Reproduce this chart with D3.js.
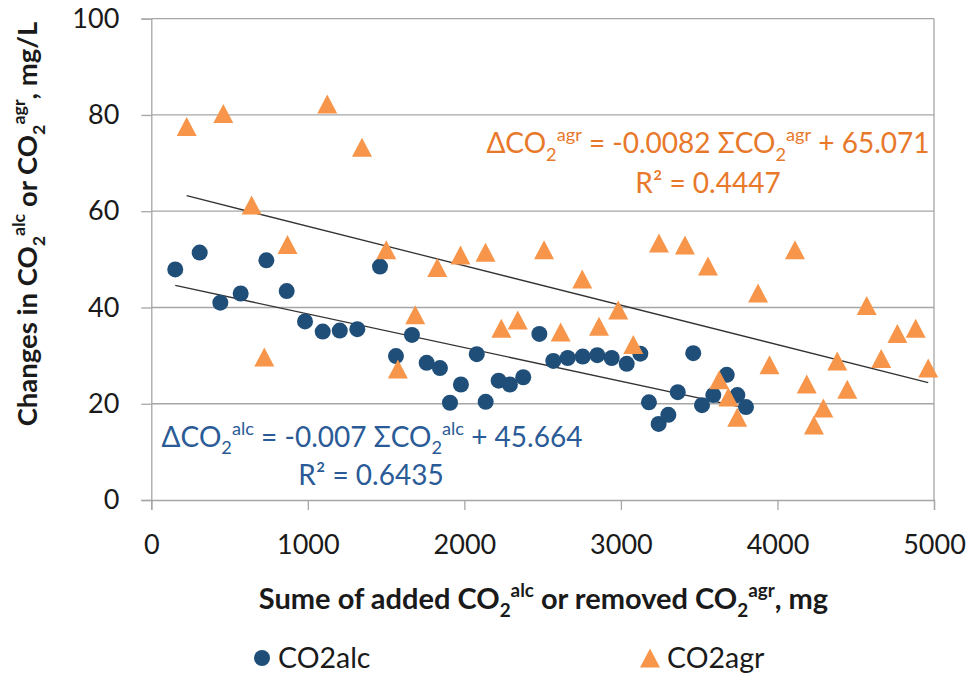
<!DOCTYPE html>
<html>
<head>
<meta charset="utf-8">
<script src="https://cdn.jsdelivr.net/npm/d3@7"></script>
<style>
  body { margin: 0; background: #fff; }
  svg { display: block; font-family: Lato, "Open Sans", sans-serif; }
</style>
</head>
<body>
<div id="chart"></div>
<script>
// data
var alcX = [153, 309, 441, 571, 735, 865, 982, 1095, 1204, 1316, 1461, 1563, 1665, 1759, 1844, 1908, 1978, 2079, 2136, 2219,
            2291, 2376, 2479, 2568, 2660, 2756, 2849, 2941, 3037, 3124, 3179, 3241, 3303, 3363, 3462, 3518, 3590, 3676, 3744, 3799];
var alcY = [47.9, 51.4, 41.0, 42.9, 49.8, 43.4, 37.1, 35.0, 35.2, 35.5, 48.5, 29.9, 34.3, 28.5, 27.4, 20.2, 24.0, 30.3, 20.4, 24.8,
            24.0, 25.5, 34.5, 28.9, 29.5, 29.8, 30.1, 29.5, 28.3, 30.4, 20.3, 15.8, 17.7, 22.4, 30.5, 19.7, 21.8, 26.0, 21.8, 19.3];
var agrX = [226, 460, 641, 722, 870, 1124, 1346, 1501, 1575, 1686, 1827, 1975, 2135, 2236, 2341, 2509, 2615, 2753, 2860, 2983,
            3079, 3243, 3409, 3556, 3628, 3686, 3743, 3876, 3949, 4112, 4187, 4233, 4293, 4382, 4446, 4570, 4663, 4766, 4883, 4963];
var agrY = [77.6, 80.3, 61.3, 29.7, 53.1, 82.3, 73.3, 52.0, 27.2, 38.5, 48.3, 50.9, 51.5, 35.7, 37.4, 52.0, 34.9, 45.9, 36.1, 39.5,
            32.3, 53.4, 53.0, 48.6, 25.0, 21.4, 17.2, 43.0, 28.1, 52.0, 24.1, 15.6, 19.1, 28.9, 23.0, 40.4, 29.4, 34.6, 35.7, 27.4];

// trendlines (slope, intercept) as printed on the chart
var alcFit = [-0.007, 45.664];
var agrFit = [-0.0082, 65.071];

var xTicks = [0, 1000, 2000, 3000, 4000, 5000];
var yTicks = [0, 20, 40, 60, 80, 100];
var seriesNames = ["CO2alc", "CO2agr"];

var W = 968, H = 675;
var margin = {top: 18.7, right: 34, bottom: 175, left: 151.3};
var width = W - margin.left - margin.right,
    height = H - margin.top - margin.bottom;

var blue = "#1F4E79", blueText = "#2A5B96";
var orange = "#F7964A", orangeText = "#E8782A";
var gridCol = "#a6a6a6";

var svg = d3.select("#chart").append("svg")
  .attr("width", W)
  .attr("height", H);

var g = svg.append("g")
  .attr("transform", "translate(" + margin.left + "," + margin.top + ")");

var x = d3.scaleLinear().domain([0, 5000]).range([0, width]);
var y = d3.scaleLinear().domain([0, 100]).range([height, 0]);

// horizontal gridlines
g.selectAll(".grid")
  .data(yTicks.slice(1))
  .enter().append("line")
  .attr("class", "grid")
  .attr("x1", 0).attr("x2", width)
  .attr("y1", d => y(d)).attr("y2", d => y(d))
  .style("stroke", gridCol).style("stroke-width", 1.3);

// right border of plot area
g.append("line")
  .attr("x1", width).attr("x2", width)
  .attr("y1", 0).attr("y2", height)
  .style("stroke", gridCol).style("stroke-width", 1.3);

// axes
var xAxis = g.append("g")
  .attr("transform", "translate(0," + height + ")")
  .call(d3.axisBottom(x).tickValues(xTicks).tickFormat(d3.format("d")).tickSize(10).tickPadding(20));
var yAxis = g.append("g")
  .call(d3.axisLeft(y).tickValues(yTicks).tickFormat(d3.format("d")).tickSize(10).tickPadding(20));

[xAxis, yAxis].forEach(function(a) {
  a.select(".domain").style("stroke", gridCol).style("stroke-width", 1.3);
  a.selectAll(".tick line").style("stroke", gridCol).style("stroke-width", 1.3);
  a.selectAll(".tick text")
    .style("font-family", "Lato, sans-serif")
    .style("font-size", "27px")
    .style("fill", "#1a1a1a");
});
xAxis.selectAll(".tick text").attr("dy", "0.88em");
yAxis.selectAll(".tick text").attr("x", -32);

// trendlines
function fitLine(fit, xs) {
  var x0 = d3.min(xs), x1 = d3.max(xs);
  return [[x0, fit[0] * x0 + fit[1]], [x1, fit[0] * x1 + fit[1]]];
}
var line = d3.line().x(d => x(d[0])).y(d => y(d[1]));
g.append("path").datum(fitLine(agrFit, agrX))
  .attr("d", line).style("stroke", "#333").style("stroke-width", 1.3).style("fill", "none");
g.append("path").datum(fitLine(alcFit, alcX))
  .attr("d", line).style("stroke", "#333").style("stroke-width", 1.3).style("fill", "none");

// markers
var tri = "M0,-9.5L10,9.5L-10,9.5Z";
g.selectAll(".alc")
  .data(alcX.map((d, i) => ({x: d, y: alcY[i]})))
  .enter().append("circle")
  .attr("class", "alc")
  .attr("cx", d => x(d.x)).attr("cy", d => y(d.y))
  .attr("r", 8)
  .style("fill", blue);

g.selectAll(".agr")
  .data(agrX.map((d, i) => ({x: d, y: agrY[i]})))
  .enter().append("path")
  .attr("class", "agr")
  .attr("d", tri)
  .attr("transform", d => "translate(" + x(d.x) + "," + y(d.y) + ")")
  .style("fill", orange);

// text with sub/superscripts
function richText(sel, parts, fs) {
  var cur = 0;
  sel.style("font-size", fs + "px");
  parts.forEach(function(p) {
    var target = p.sub ? 0.28 * fs : p.sup ? -0.42 * fs : 0;
    sel.append("tspan")
      .attr("dy", target - cur)
      .style("font-size", (p.sub || p.sup ? 0.65 * fs : fs) + "px")
      .text(p.t);
    cur = target;
  });
}

// equations
var eqAgr = svg.append("text")
  .attr("x", 708).attr("y", 153)
  .attr("text-anchor", "middle")
  .style("fill", orangeText);
richText(eqAgr, [{t: "ΔCO"}, {t: "2", sub: true}, {t: "agr", sup: true}, {t: " = -0.0082 ΣCO"},
                 {t: "2", sub: true}, {t: "agr", sup: true}, {t: " + 65.071"}], 28);
svg.append("text")
  .attr("x", 708).attr("y", 192.5)
  .attr("text-anchor", "middle")
  .style("fill", orangeText).style("font-size", "28px")
  .text("R² = 0.4447");

var eqAlc = svg.append("text")
  .attr("x", 372).attr("y", 446.5)
  .attr("text-anchor", "middle")
  .style("fill", blueText);
richText(eqAlc, [{t: "ΔCO"}, {t: "2", sub: true}, {t: "alc", sup: true}, {t: " = -0.007 ΣCO"},
                 {t: "2", sub: true}, {t: "alc", sup: true}, {t: " + 45.664"}], 28);
svg.append("text")
  .attr("x", 371).attr("y", 485)
  .attr("text-anchor", "middle")
  .style("fill", blueText).style("font-size", "28px")
  .text("R² = 0.6435");

// axis titles (placed by their measured box so they span the same room as the original)
var xTitle = svg.append("text")
  .style("font-weight", "bold").style("fill", "#1a1a1a");
richText(xTitle, [{t: "Sume of added CO"}, {t: "2", sub: true}, {t: "alc", sup: true}, {t: " or removed CO"},
                  {t: "2", sub: true}, {t: "agr", sup: true}, {t: ", mg"}], 29);
var xb = xTitle.node().getBBox();
xTitle.attr("x", 543.5 - xb.width / 2).attr("y", 609);

var yTitle = svg.append("text")
  .style("font-weight", "bold").style("fill", "#1a1a1a");
richText(yTitle, [{t: "Changes in CO"}, {t: "2", sub: true}, {t: "alc", sup: true}, {t: " or CO"},
                  {t: "2", sub: true}, {t: "agr", sup: true}, {t: ", mg/L"}], 27.5);
var yb = yTitle.node().getBBox();
yTitle.attr("transform", "translate(37," + (224 + yb.width / 2) + ") rotate(-90)");

// legend
var legend = svg.append("g");
legend.append("circle").attr("cx", 262).attr("cy", 658).attr("r", 8).style("fill", blue);
legend.append("text").attr("x", 278).attr("y", 668)
  .style("font-size", "28.5px").style("fill", "#1a1a1a").text(seriesNames[0]);
legend.append("path").attr("d", tri).attr("transform", "translate(650,658)").style("fill", orange);
legend.append("text").attr("x", 667).attr("y", 668)
  .style("font-size", "28.5px").style("fill", "#1a1a1a").text(seriesNames[1]);
</script>
</body>
</html>
